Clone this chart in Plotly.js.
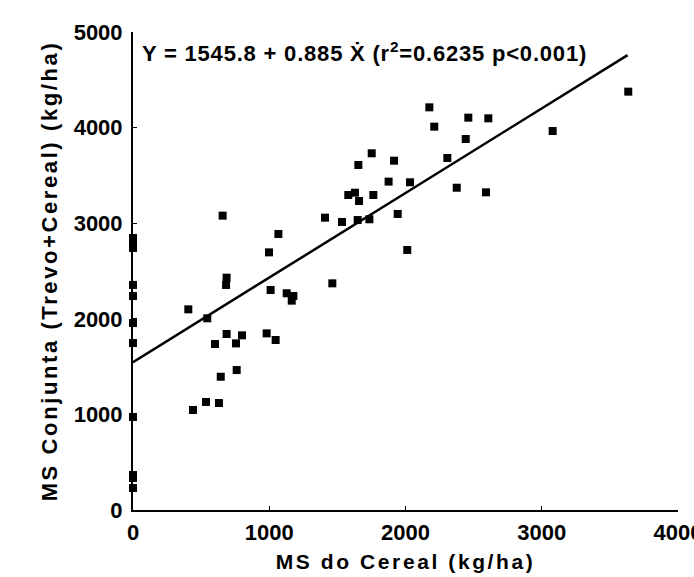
<!DOCTYPE html>
<html>
<head>
<meta charset="utf-8">
<script src="https://cdn.plot.ly/plotly-3.0.1.min.js"></script>
<style>
html,body{margin:0;padding:0;background:#fff;}
#chart{width:694px;height:577px;}
#chart .xtitle, #chart .ytitle { letter-spacing: 2.6px; }
#chart .annotation-text { letter-spacing: 0.8px; }
</style>
</head>
<body>
<div id="chart"></div>
<script>
// MS do Cereal (kg/ha)
const cerealX = [0, 0, 0, 0, 0, 0, 0, 0, 0, 0, 0,
  440, 536, 631, 644, 761, 602, 756, 1047, 658, 406, 545, 687, 683, 687, 800, 981,
  998, 1067, 1010, 1128, 1177, 1165, 1463, 1409, 1534, 1649, 1735, 1580, 1629, 1659,
  1764, 1876, 1943, 1752, 1654, 1916, 2175, 2211, 2461, 2608, 2442, 2307, 2033, 2376,
  2591, 3080, 3635, 2013];
// MS Conjunta (Trevo+Cereal) (kg/ha)
const conjuntaY = [2845, 2803, 2741, 2354, 2238, 1956, 1747, 973, 366, 335, 230,
  1046, 1130, 1119, 1394, 1464, 1736, 1743, 1778, 3079, 2099, 2005, 2430, 2354, 1841, 1827, 1848,
  2695, 2887, 2301, 2267, 2238, 2190, 2371, 3058, 3013, 3033, 3041, 3295, 3319, 3232,
  3295, 3435, 3096, 3731, 3609, 3654, 4212, 4010, 4104, 4097, 3881, 3682, 3428, 3371,
  3323, 3964, 4376, 2720];
// regression line Y = 1545.8 + 0.885 X
const intercept = 1545.8;
const slope = 0.885;
const lineX = [0, 3630];
const lineY = lineX.map(x => intercept + slope * x);
const xTicks = [0, 1000, 2000, 3000, 4000];
const yTicks = [0, 1000, 2000, 3000, 4000, 5000];
const eqText = "Y = 1545.8 + 0.885 X\u0307 (r<sup>2</sup>=0.6235 p&lt;0.001)";

const font = "Liberation Sans, Arial, sans-serif";
const data = [
  {x: lineX, y: lineY, mode: "lines", type: "scatter", line: {color: "#000", width: 2.5}, hoverinfo: "skip", cliponaxis: false},
  {x: cerealX, y: conjuntaY, mode: "markers", type: "scatter", marker: {symbol: "square", size: 8, color: "#000"}, cliponaxis: false}
];
const layout = {
  width: 694, height: 577,
  margin: {l: 133, r: 16, t: 32, b: 67},
  paper_bgcolor: "#fff", plot_bgcolor: "#fff",
  showlegend: false,
  font: {family: font, color: "#000", size: 18},
  xaxis: {
    range: [0, 4000], tickvals: xTicks, ticktext: xTicks.map(String),
    showgrid: false, zeroline: false, showline: true, linecolor: "#000", linewidth: 2,
    ticks: "inside", ticklen: 4, tickcolor: "#000",
    tickfont: {family: font, size: 22, weight: "bold"},
    ticklabeloverflow: "allow",
    ticklabelstandoff: 2,
    title: {text: "<b>MS do Cereal (kg/ha)</b>", font: {family: font, size: 21}, standoff: 10}
  },
  yaxis: {
    range: [0, 5000], tickvals: yTicks, ticktext: yTicks.map(String),
    showgrid: false, zeroline: false, showline: true, linecolor: "#000", linewidth: 2,
    ticks: "inside", ticklen: 4, tickcolor: "#000",
    tickfont: {family: font, size: 22, weight: "bold"},
    ticklabeloverflow: "allow",
    ticklabelstandoff: 4,
    title: {text: "<b>MS Conjunta (Trevo+Cereal) (kg/ha)</b>", font: {family: font, size: 22}, standoff: 10}
  },
  annotations: [{
    xref: "paper", yref: "paper", x: 0.042, y: 0.958, xanchor: "left", yanchor: "middle",
    text: "<b>" + eqText + "</b>", showarrow: false, font: {family: font, size: 22}
  }]
};
Plotly.newPlot("chart", data, layout, {displayModeBar: false, staticPlot: true});
</script>
</body>
</html>
